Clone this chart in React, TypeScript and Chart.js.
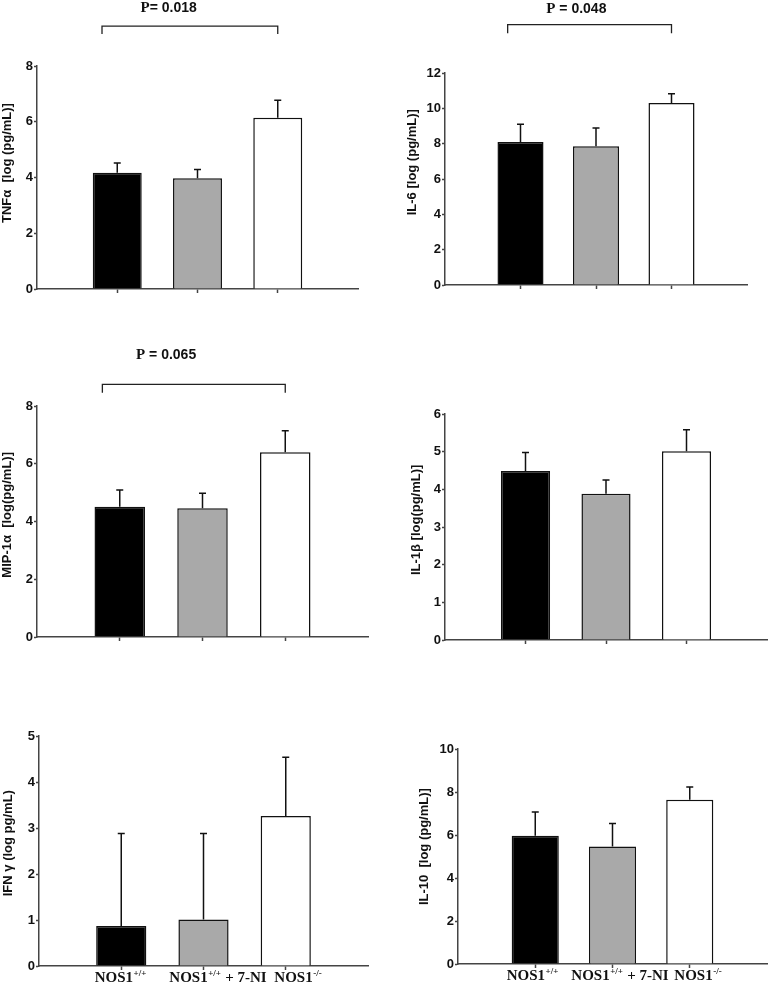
import React, { useEffect, useRef } from 'react';
import { Chart, registerables } from 'chart.js';

Chart.register(...registerables);

// ---------- data ----------
const groups = ['NOS1+/+', 'NOS1+/+ + 7-NI', 'NOS1-/-'];
const barColors = ['#000000', '#a9a9a9', '#ffffff'];

const tnfMean = [4.17, 3.97, 6.14];
const tnfSem = [0.35, 0.32, 0.63];

const il6Mean = [8.1, 7.85, 10.3];
const il6Sem = [1.0, 1.04, 0.53];

const mipMean = [4.51, 4.46, 6.4];
const mipSem = [0.58, 0.52, 0.74];

const il1bMean = [4.49, 3.88, 5.01];
const il1bSem = [0.49, 0.37, 0.57];

const ifnMean = [0.87, 1.01, 3.26];
const ifnSem = [2.01, 1.87, 1.28];

const il10Mean = [5.97, 5.47, 7.64];
const il10Sem = [1.1, 1.06, 0.59];

// significance brackets (x in category units, y in data units)
const tnfSig = { p: 'P', rest: '= 0.018', from: 0.81, to: 3, y: 9.43, drop: 9.15, textX: 1.64, textY: 9.94 };
const il6Sig = { p: 'P', rest: ' = 0.048', from: 0.83, to: 3, y: 14.74, drop: 14.25, textX: 1.74, textY: 15.38 };
const mipSig = { p: 'P', rest: ' = 0.065', from: 0.79, to: 3, y: 8.75, drop: 8.46, textX: 1.56, textY: 9.63 };

// ---------- layout / style ----------
const AXIS = '#444';
const INK = '#111';
const SANS = "'Liberation Sans', Arial, sans-serif";
const SERIF = "'Liberation Serif', 'Times New Roman', serif";

type Sig = typeof tnfSig;
type PanelDef = {
  title: string;
  titleAt: number; // vertical centre of the axis title, in data units
  mean: number[];
  sem: number[];
  yMax: number;
  yStep: number;
  sig?: Sig;
  labels?: boolean;
  labelShift?: number[];
  box: { left: number; top: number; width: number; height: number; padTop: number; axisW: number; axisH: number };
};

const panels: PanelDef[] = [
  { title: 'TNFα  [log (pg/mL)]', titleAt: 4.52, mean: tnfMean, sem: tnfSem, yMax: 8, yStep: 2, sig: tnfSig,
    box: { left: 0, top: 0, width: 359, height: 309, padTop: 66, axisW: 37, axisH: 20 } },
  { title: 'IL-6 [log (pg/mL)]', titleAt: 6.95, mean: il6Mean, sem: il6Sem, yMax: 12, yStep: 2, sig: il6Sig,
    box: { left: 405, top: 0, width: 343, height: 305, padTop: 73, axisW: 40, axisH: 20 } },
  { title: 'MIP-1α  [log(pg/mL)]', titleAt: 4.23, mean: mipMean, sem: mipSem, yMax: 8, yStep: 2, sig: mipSig,
    box: { left: 0, top: 340, width: 369, height: 317, padTop: 66, axisW: 37, axisH: 20 } },
  { title: 'IL-1β [log(pg/mL)]', titleAt: 3.19, mean: il1bMean, sem: il1bSem, yMax: 6, yStep: 1,
    box: { left: 409, top: 340, width: 359, height: 320, padTop: 74, axisW: 36, axisH: 20 } },
  { title: 'IFN γ (log pg/mL)', titleAt: 2.67, mean: ifnMean, sem: ifnSem, yMax: 5, yStep: 1, labels: true, labelShift: [-1, 14, 12],
    box: { left: 1, top: 660, width: 368, height: 324, padTop: 76, axisW: 38, axisH: 18 } },
  { title: 'IL-10  [log (pg/mL)]', titleAt: 5.46, mean: il10Mean, sem: il10Sem, yMax: 10, yStep: 2, labels: true, labelShift: [-3, 7, 8],
    box: { left: 417, top: 660, width: 351, height: 324, padTop: 89, axisW: 41, axisH: 20 } },
];

function makeOverlay(p: PanelDef) {
  return {
    id: 'overlay',
    afterDatasetsDraw(chart: any) {
      const ctx = chart.ctx as CanvasRenderingContext2D;
      const xs = chart.scales.x;
      const ys = chart.scales.y;
      ctx.save();
      // error bars
      ctx.strokeStyle = INK;
      ctx.lineWidth = 1.5;
      p.mean.forEach((m, i) => {
        const x = xs.getPixelForValue(i + 1);
        const y0 = ys.getPixelForValue(m);
        const y1 = ys.getPixelForValue(m + p.sem[i]);
        ctx.beginPath();
        ctx.moveTo(x, y0);
        ctx.lineTo(x, y1);
        ctx.moveTo(x - 3.5, y1);
        ctx.lineTo(x + 3.5, y1);
        ctx.stroke();
      });
      // axis title
      ctx.save();
      ctx.translate(7.5, ys.getPixelForValue(p.titleAt));
      ctx.rotate(-Math.PI / 2);
      ctx.font = `bold 13px ${SANS}`;
      ctx.fillStyle = INK;
      ctx.textAlign = 'center';
      ctx.textBaseline = 'middle';
      ctx.fillText(p.title, 0, 0);
      ctx.restore();
      // significance bracket
      if (p.sig) {
        const s = p.sig;
        const xa = xs.getPixelForValue(s.from);
        const xb = xs.getPixelForValue(s.to);
        const yl = ys.getPixelForValue(s.y);
        const yd = ys.getPixelForValue(s.drop);
        ctx.strokeStyle = '#222';
        ctx.lineWidth = 1.3;
        ctx.beginPath();
        ctx.moveTo(xa, yd);
        ctx.lineTo(xa, yl);
        ctx.lineTo(xb, yl);
        ctx.lineTo(xb, yd);
        ctx.stroke();
        const pf = `bold 15px ${SERIF}`;
        const rf = `bold 14px ${SANS}`;
        ctx.font = pf;
        const wp = ctx.measureText(s.p).width;
        ctx.font = rf;
        const wr = ctx.measureText(s.rest).width;
        const cx = xs.getPixelForValue(s.textX);
        const ty = ys.getPixelForValue(s.textY);
        const x0 = cx - (wp + wr) / 2;
        ctx.fillStyle = INK;
        ctx.textBaseline = 'alphabetic';
        ctx.textAlign = 'left';
        ctx.font = pf;
        ctx.fillText(s.p, x0, ty);
        ctx.font = rf;
        ctx.fillText(s.rest, x0 + wp, ty);
      }
      // category labels with superscripts
      if (p.labels) {
        const base = chart.chartArea.bottom + 16;
        const big = `bold 15px ${SERIF}`;
        const small = `bold 9px ${SERIF}`;
        groups.forEach((g, i) => {
          const m = g.match(/^(NOS1)([+\-]\/[+\-])(.*)$/);
          const parts = m ? [m[1], m[2], m[3]] : [g, '', ''];
          ctx.font = big;
          const w1 = ctx.measureText(parts[0]).width;
          const w3 = ctx.measureText(parts[2]).width;
          ctx.font = small;
          const w2 = ctx.measureText(parts[1]).width;
          const cx = xs.getPixelForValue(i + 1) + (p.labelShift ? p.labelShift[i] : 0);
          let x = cx - (w1 + w2 + w3) / 2;
          ctx.fillStyle = INK;
          ctx.textAlign = 'left';
          ctx.textBaseline = 'alphabetic';
          ctx.font = big;
          ctx.fillText(parts[0], x, base);
          x += w1;
          ctx.font = small;
          ctx.fillText(parts[1], x + 0.5, base - 6);
          x += w2 + 1;
          ctx.font = big;
          ctx.fillText(parts[2], x, base);
        });
      }
      ctx.restore();
    },
  };
}

function Panel({ p }: { p: PanelDef }) {
  const ref = useRef<HTMLCanvasElement | null>(null);
  useEffect(() => {
    if (!ref.current) return;
    const b = p.box;
    const chart = new Chart(ref.current, {
      type: 'bar',
      data: {
        labels: ['', ...groups, ''],
        datasets: [
          {
            data: [null, ...p.mean, null] as any,
            backgroundColor: ['rgba(0,0,0,0)', ...barColors, 'rgba(0,0,0,0)'],
            borderColor: INK,
            borderWidth: 1.5,
            barPercentage: 0.61,
            categoryPercentage: 1,
          },
        ],
      },
      options: {
        responsive: false,
        animation: false,
        devicePixelRatio: 1,
        layout: { padding: { top: b.padTop, right: 1, left: 0, bottom: 0 } },
        plugins: { legend: { display: false }, tooltip: { enabled: false } },
        scales: {
          x: {
            type: 'category',
            offset: false,
            grid: {
              display: true,
              offset: false,
              drawOnChartArea: false,
              drawTicks: true,
              tickLength: 4,
              tickWidth: 1.5,
              tickColor: (c: any) => (c.index === 0 || c.index === 4 ? 'rgba(0,0,0,0)' : AXIS),
            },
            border: { display: true, color: AXIS, width: 1.5 },
            ticks: { display: false },
            afterFit: (s: any) => {
              s.height = b.axisH;
            },
          },
          y: {
            min: 0,
            max: p.yMax,
            ticks: {
              stepSize: p.yStep,
              color: INK,
              padding: 1,
              font: { family: SANS, size: 13, weight: 'bold' },
            },
            grid: { drawOnChartArea: false, tickLength: 3, tickWidth: 1.5, tickColor: AXIS },
            border: { display: true, color: AXIS, width: 1.5 },
            title: { display: false },
            afterFit: (s: any) => {
              s.width = b.axisW;
            },
          },
        },
      } as any,
      plugins: [makeOverlay(p)],
    });
    return () => chart.destroy();
  }, [p]);
  const b = p.box;
  return (
    <canvas
      ref={ref}
      width={b.width}
      height={b.height}
      style={{ position: 'absolute', left: b.left, top: b.top, width: b.width, height: b.height }}
    />
  );
}

export default function App() {
  return (
    <div style={{ position: 'absolute', left: 0, top: 0, width: 768, height: 984, background: '#ffffff', overflow: 'hidden' }}>
      {panels.map((p, i) => (
        <Panel key={i} p={p} />
      ))}
    </div>
  );
}
